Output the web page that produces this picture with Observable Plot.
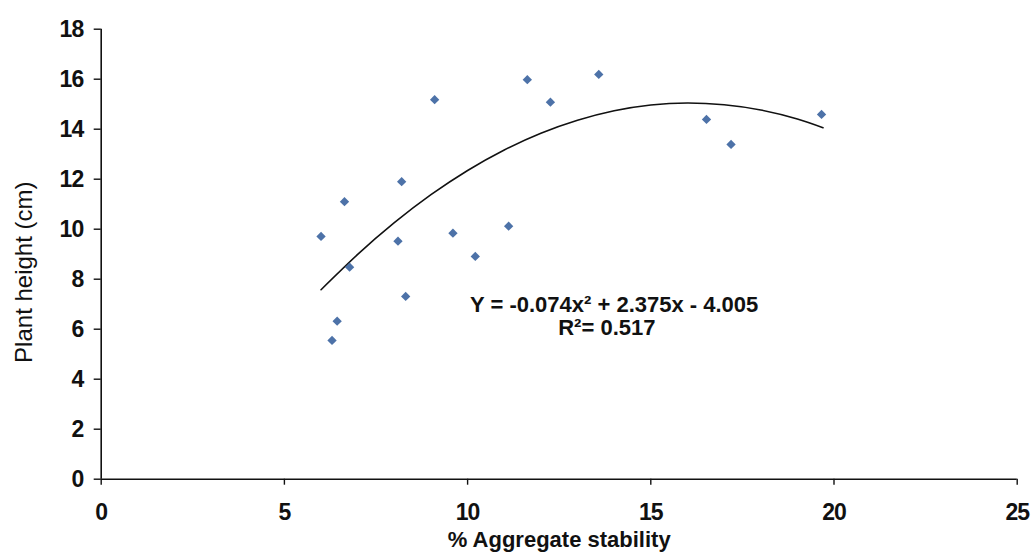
<!DOCTYPE html>
<html>
<head>
<meta charset="utf-8">
<script src="https://cdn.jsdelivr.net/npm/d3@7"></script>
<script src="https://cdn.jsdelivr.net/npm/@observablehq/plot@0.6"></script>
<style>
  html, body { margin: 0; padding: 0; background: #fff; }
  g[aria-label$="tick label"] text { letter-spacing: -1px; }
  g[aria-label="x title"] text { letter-spacing: -1px; }
</style>
</head>
<body>
<div id="chart"></div>
<script>
// Data
const aggStability = [6.00, 6.64, 6.78, 6.44, 6.30, 8.20, 8.10, 8.31, 9.10, 9.60, 10.21, 11.12, 11.63, 12.26, 13.58, 16.52, 17.19, 19.66];
const plantHeight  = [9.71, 11.10, 8.48, 6.32, 5.55, 11.90, 9.52, 7.31, 15.18, 9.84, 8.91, 10.12, 15.98, 15.08, 16.19, 14.39, 13.39, 14.59];

// Trend curve at several x positions
const trendX = [6, 7, 8, 9, 10, 11, 12, 13, 14, 15, 16, 17, 18, 19, 19.7];
const trendY = [7.58, 8.99, 10.26, 11.38, 12.35, 13.17, 13.84, 14.36, 14.74, 14.97, 15.05, 14.98, 14.77, 14.41, 14.06];

const xTicks = [0, 5, 10, 15, 20, 25];
const yTicks = [0, 2, 4, 6, 8, 10, 12, 14, 16, 18];
const xTitle = "% Aggregate stability";
const yTitle = "Plant height (cm)";
const equationLines = ["Y = -0.074x² + 2.375x - 4.005", "R²= 0.517"];

const points = aggStability.map((x, i) => ({x, y: plantHeight[i]}));
const trend = trendX.map((x, i) => ({x, y: trendY[i]}));

const font = "'Liberation Sans', Arial, Helvetica, sans-serif";

const chart = Plot.plot({
  width: 1032,
  height: 555,
  marginLeft: 100.7,
  marginRight: 15.3,
  marginTop: 28.7,
  marginBottom: 76.3,
  style: {fontFamily: font, background: "#fff", color: "#111"},
  x: {domain: [0, 25]},
  y: {domain: [0, 18]},
  marks: [
    Plot.axisY(yTicks, {tickSize: 7, tickPadding: 11, fontSize: 23, fontWeight: "bold", strokeWidth: 1.4, label: null}),
    Plot.axisX(xTicks, {tickSize: 6, tickPadding: 18, fontSize: 23, fontWeight: "bold", strokeWidth: 1.4, label: null}),
    Plot.ruleX([0], {y1: 0, y2: 18, stroke: "#111", strokeWidth: 1.6}),
    Plot.ruleY([0], {x1: 0, x2: 25, stroke: "#111", strokeWidth: 1.6}),
    Plot.line(trend, {x: "x", y: "y", curve: "natural", stroke: "#111", strokeWidth: 1.6}),
    Plot.dot(points, {x: "x", y: "y", symbol: "diamond2", r: 4.2, fill: "#4d72a8", stroke: "none"}),
    Plot.text([equationLines[0]], {x: 14, y: 6.96, text: d => d, fontSize: 22, fontWeight: "bold", textAnchor: "middle", ariaLabel: "equation"}),
    Plot.text([equationLines[1]], {x: 13.8, y: 6.03, text: d => d, fontSize: 22, fontWeight: "bold", textAnchor: "middle"}),
    Plot.text([xTitle], {frameAnchor: "bottom", text: d => d, dy: 61, fontSize: 22, fontWeight: "bold", textAnchor: "middle", lineAnchor: "middle", ariaLabel: "x title"}),
    Plot.text([yTitle], {frameAnchor: "left", text: d => d, rotate: -90, dx: -77, dy: 18, fontSize: 24, textAnchor: "middle", lineAnchor: "middle"})
  ]
});

// Serif "Y" in the equation, as in the reference
d3.select(chart).selectAll('g[aria-label="equation"] text').each(function() {
  const t = this.textContent;
  if (t.startsWith("Y")) {
    const sel = d3.select(this);
    sel.text("");
    sel.append("tspan").attr("font-family", "'Liberation Serif', 'Times New Roman', serif").text("Y");
    sel.append("tspan").text(t.slice(1));
  }
});

document.getElementById("chart").appendChild(chart);
</script>
</body>
</html>
